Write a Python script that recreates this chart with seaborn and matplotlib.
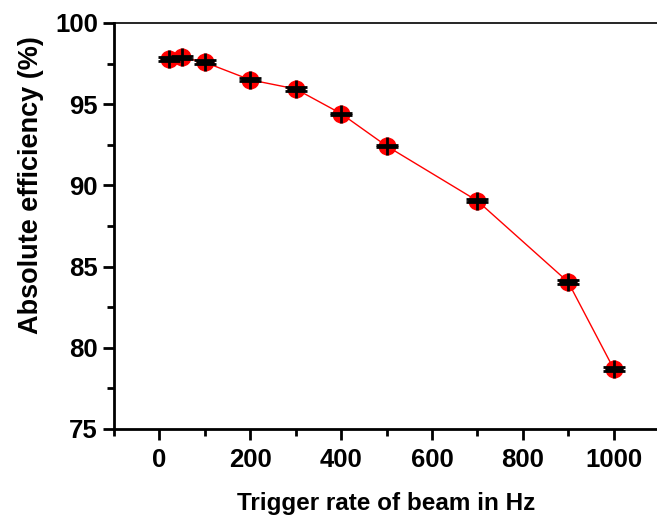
import matplotlib
matplotlib.use("Agg")
import matplotlib.pyplot as plt
import seaborn as sns
import pandas as pd
from matplotlib.ticker import MultipleLocator

trigger_rate = [20, 50, 100, 200, 300, 400, 500, 700, 900, 1000]
efficiency = [97.78, 97.88, 97.58, 96.5, 95.94, 94.42, 92.43, 89.05, 84.05, 78.72]
eff_err = [0.12, 0.10, 0.12, 0.10, 0.10, 0.06, 0.08, 0.10, 0.12, 0.12]

df = pd.DataFrame({"rate": trigger_rate, "eff": efficiency, "err": eff_err})

sns.set_theme(style="white")
plt.rcParams["font.family"] = ["Liberation Sans", "DejaVu Sans"]
plt.rcParams["font.weight"] = "bold"
for key in ["text.color", "axes.labelcolor", "xtick.color", "ytick.color", "axes.edgecolor"]:
    plt.rcParams[key] = "black"

fig = plt.figure(figsize=(6.57, 5.17), dpi=100)
ax = fig.add_axes([114 / 657, (517 - 429) / 517, 545 / 657, (429 - 23) / 517])

sns.lineplot(data=df, x="rate", y="eff", color="red", linewidth=1, ax=ax, zorder=2)
sns.scatterplot(data=df, x="rate", y="eff", color="red", s=170, edgecolor="red",
                linewidth=0, ax=ax, zorder=3)
ax.errorbar(df["rate"], df["eff"], yerr=df["err"], fmt="none", ecolor="black",
            elinewidth=1.5, capsize=8, capthick=2, zorder=4)
sns.scatterplot(data=df, x="rate", y="eff", marker="+", color="black", s=150,
                linewidth=2, ax=ax, zorder=5)

ax.set_xlim(-100, 1100)
ax.set_ylim(75, 100)
ax.xaxis.set_major_locator(MultipleLocator(200))
ax.xaxis.set_minor_locator(MultipleLocator(100))
ax.yaxis.set_major_locator(MultipleLocator(5))
ax.yaxis.set_minor_locator(MultipleLocator(2.5))

ax.tick_params(which="major", direction="out", length=8, width=2, labelsize=18.5,
               bottom=True, left=True, top=False, right=False, colors="black")
ax.tick_params(which="minor", direction="out", length=5, width=2,
               bottom=True, left=True, top=False, right=False, colors="black")
ax.tick_params(axis="x", which="major", pad=6)
for lab in ax.get_xticklabels() + ax.get_yticklabels():
    lab.set_fontweight("bold")

for side in ["left", "bottom"]:
    ax.spines[side].set_linewidth(2)
    ax.spines[side].set_color("black")
ax.spines["top"].set_linewidth(1.2)
ax.spines["top"].set_color("black")
ax.spines["right"].set_visible(False)

ax.set_xlabel("Trigger rate of beam in Hz", fontsize=17.5, fontweight="bold",
              labelpad=14, color="black")
ax.set_ylabel("Absolute efficiency (%)", fontsize=19.5, fontweight="bold",
              labelpad=8, color="black")
ax.yaxis.set_label_coords(-0.128, 0.60)

fig.savefig("out.png", dpi=100)
